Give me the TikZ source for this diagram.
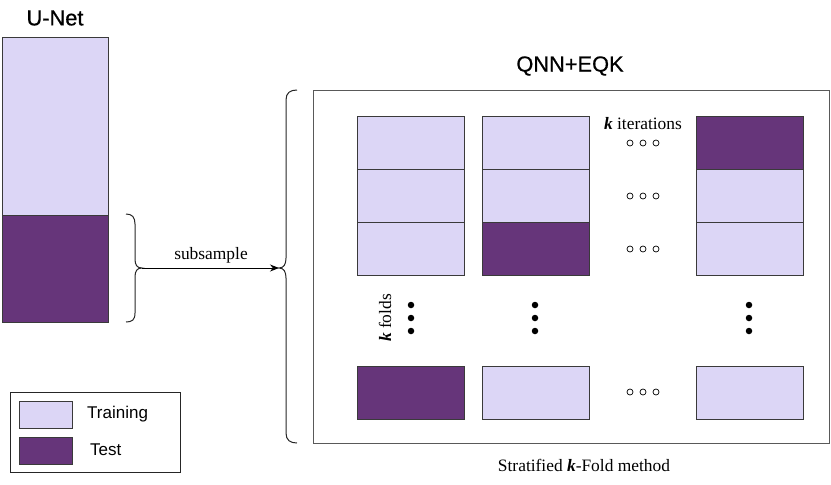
\documentclass[tikz,border=0pt]{standalone}
\usepackage{fontspec}
\setmainfont{Liberation Serif}
\newfontfamily\helv{Liberation Sans}
\newfontfamily\helvm[FakeBold=0.6]{Liberation Sans}
\usetikzlibrary{arrows.meta}
\definecolor{trainc}{HTML}{DCD6F6}
\definecolor{testc}{HTML}{66357A}
\definecolor{edgec}{HTML}{3A3A3A}
\tikzset{
  cell/.style={draw=edgec, line width=0.9pt, minimum width=107pt, minimum height=53pt, inner sep=0pt, outer sep=0pt},
  train/.style={cell, fill=trainc},
  testb/.style={cell, fill=testc},
  lbl/.style={font=\fontsize{17.4}{17.4}\selectfont, inner sep=0pt},
  ttl/.style={font=\helvm\fontsize{21.8}{21.8}\selectfont, inner sep=0pt},
  leg/.style={font=\helv\fontsize{17}{17}\selectfont, inner sep=0pt, anchor=west},
  hdot/.style={draw=black, line width=0.7pt, circle, minimum size=6pt, inner sep=0pt},
  fdot/.style={fill=black, circle, minimum size=6.5pt, inner sep=0pt},
  bracel/.style={draw=black!85, line width=1pt},
}
\begin{document}
\begin{tikzpicture}[x=1pt,y=-1pt]
\useasboundingbox (0,0) rectangle (831,485);
% U-Net
\node[ttl] (unett) at (55,18) {U-Net};
\node[cell, fill=trainc, minimum width=106pt, minimum height=178pt, anchor=north west] (utrain) at (2,37) {};
\node[cell, fill=testc, minimum width=106pt, minimum height=107pt, anchor=north west] (utest) at (2,215) {};
% left brace
\draw[bracel] (126,214) .. controls (132,214) and (135,217) .. (135,224) -- (135,259) .. controls (135,265) and (137,268) .. (142,268) .. controls (137,268) and (135,271) .. (135,277) -- (135,313) .. controls (135,320) and (132,322) .. (126,322);
\coordinate (btip) at (142,268);
% big brace
\draw[bracel] (297,90) .. controls (290,90) and (286,93) .. (286,100) -- (286,258) .. controls (286,264) and (284,268) .. (279,268) .. controls (284,268) and (286,272) .. (286,278) -- (286,433) .. controls (286,440) and (290,443) .. (297,443);
\coordinate (btip2) at (279,268);
\draw[line width=0.9pt, -{Stealth[length=9pt,width=7pt]}] (btip) -- (btip2);
\node[lbl] (subs) at (211,255) {subsample};
% QNN box
\node[ttl] (qnnt) at (570,66) {QNN+EQK};
\node[draw=black!65, line width=1pt, minimum width=516pt, minimum height=353pt, anchor=north west, inner sep=0pt] (qbox) at (313,90) {};
% column 1
\node[train, anchor=north west] (a1) at (357,116) {};
\node[train, anchor=north west] (a2) at (357,169) {};
\node[train, anchor=north west] (a3) at (357,222) {};
\node[testb, anchor=north west] (a4) at (357,366) {};
% column 2
\node[train, anchor=north west] (b1) at (482,116) {};
\node[train, anchor=north west] (b2) at (482,169) {};
\node[testb, anchor=north west] (b3) at (482,222) {};
\node[train, anchor=north west] (b4) at (482,366) {};
% column 3
\node[testb, anchor=north west] (c1) at (696,116) {};
\node[train, anchor=north west] (c2) at (696,169) {};
\node[train, anchor=north west] (c3) at (696,222) {};
\node[train, anchor=north west] (c4) at (696,366) {};
% k iterations
\node[lbl] (kit) at (643,124) {\textbf{\textit{k}} iterations};
\foreach \yy/\nm in {143/r1,196/r2,249/r3,392/r4}{
  \node[hdot] (\nm a) at (630,\yy) {};
  \node[hdot] (\nm b) at (643,\yy) {};
  \node[hdot] (\nm c) at (656,\yy) {};
}
% vertical dots
\foreach \xx/\nm in {411/va,535/vb,749/vc}{
  \node[fdot] (\nm1) at (\xx,305) {};
  \node[fdot] (\nm2) at (\xx,318) {};
  \node[fdot] (\nm3) at (\xx,331) {};
}
\node[lbl, rotate=90] (kf) at (385,318) {\textbf{\textit{k}} folds};
% bottom label
\node[lbl] (strat) at (584,465) {Stratified \textbf{\textit{k}}-Fold method};
% legend
\node[draw=black!85, line width=0.9pt, minimum width=170pt, minimum height=80pt, anchor=north west, inner sep=0pt] (legbox) at (10,392) {};
\node[cell, fill=trainc, minimum width=53pt, minimum height=27pt, anchor=north west] (lt) at (19,401) {};
\node[cell, fill=testc, minimum width=53pt, minimum height=27pt, anchor=north west] (ls) at (19,437) {};
\node[leg] (ltl) at (87,414) {Training};
\node[leg] (lsl) at (90,450) {Test};
\end{tikzpicture}
\end{document}
